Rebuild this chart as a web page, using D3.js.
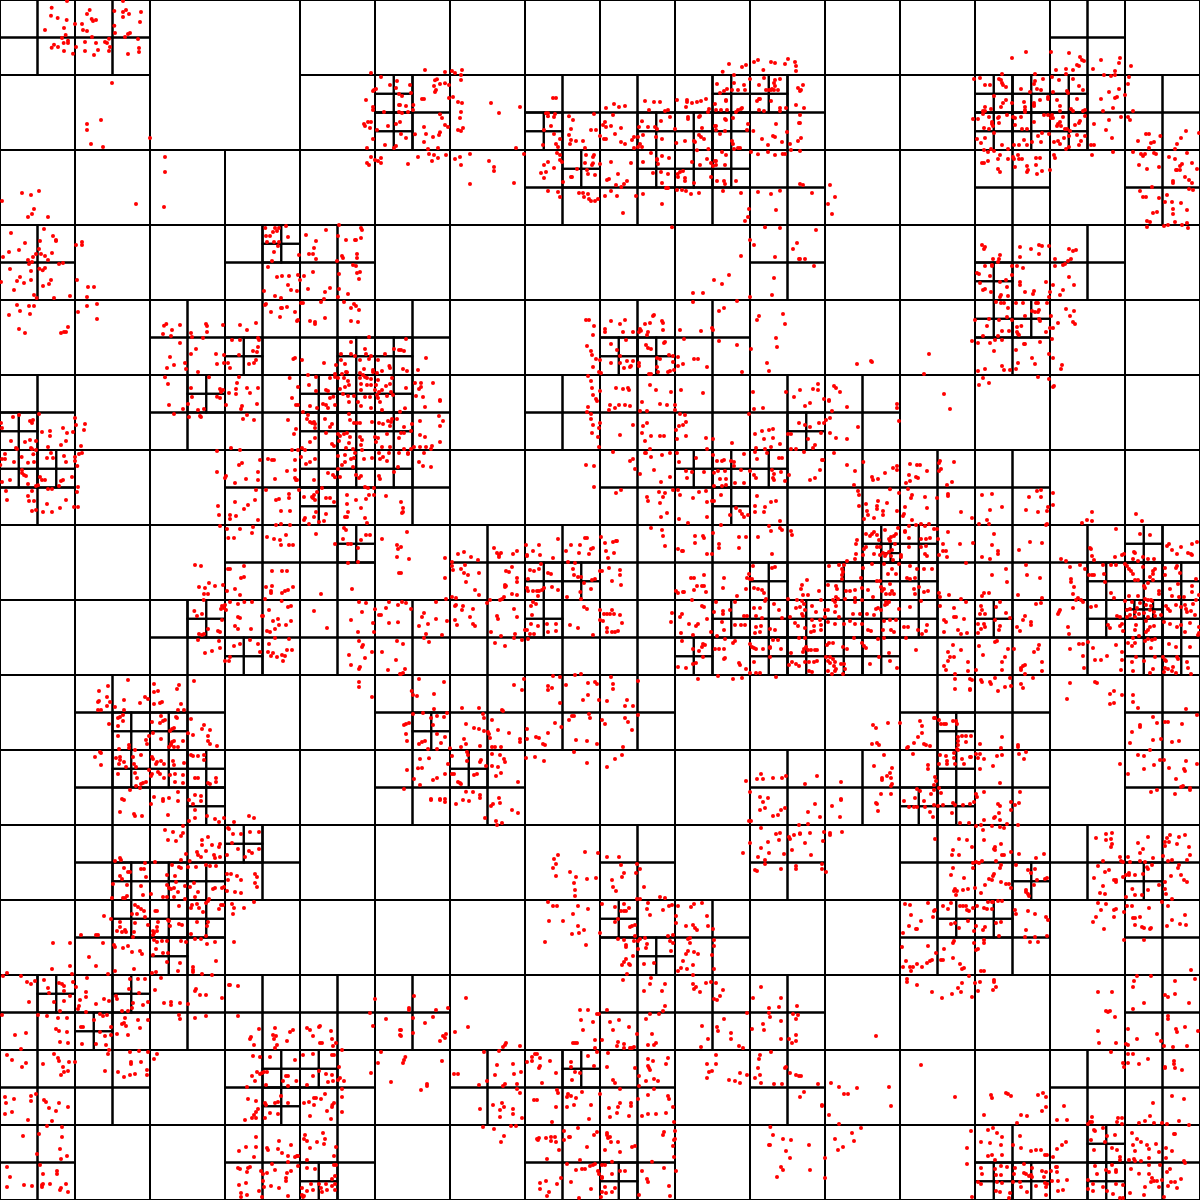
<!DOCTYPE html>
<html>
<head>
<meta charset="utf-8">
<title>Quadtree</title>
<script src="https://cdn.jsdelivr.net/npm/d3@7"></script>
<style>
  body { margin: 0; background: #fff; }
  svg { display: block; }
</style>
</head>
<body>
<div id="chart"></div>
<script>
// the only 150 wide cell which stays a leaf, in columns and rows of that size
var leaf150 = [[1, 0]];

// 75 wide cells that are split, listed by row
var split75 = [
  [0, 1, 14],
  [5, 7, 8, 9, 10, 13, 14, 15],
  [7, 8, 9, 10, 13, 15],
  [0, 3, 4, 10, 13, 14],
  [2, 3, 4, 5, 8, 9, 13],
  [0, 2, 3, 4, 5, 7, 8, 9, 10, 11],
  [0, 3, 4, 5, 8, 9, 10, 11, 12, 13],
  [3, 4, 6, 7, 8, 9, 10, 11, 12, 13, 14, 15],
  [2, 3, 4, 5, 6, 7, 8, 9, 10, 11, 12, 13, 14, 15],
  [1, 2, 5, 6, 7, 8, 12, 13, 15],
  [1, 2, 5, 6, 10, 11, 12, 13, 15],
  [1, 2, 3, 8, 10, 12, 13, 14, 15],
  [1, 2, 8, 9, 12, 13, 15],
  [0, 1, 2, 3, 4, 5, 8, 9, 10, 15],
  [0, 1, 3, 4, 6, 7, 8, 10, 14, 15],
  [0, 3, 4, 7, 8, 13, 14, 15]
];

// 37.5 wide cells that are split, as column,row
var split37 = [
  [10,2],[10,3],[14,3],[17,3],[19,2],[18,3],[19,3],[20,2],[26,2],[27,2],[26,3],[27,3],[28,2],[28,3],
  [15,4],[17,4],[18,4],[19,4],
  [7,6],[26,7],
  [6,9],[9,9],[10,9],[16,9],[17,9],[26,8],[27,8],
  [0,11],[5,10],[8,10],[9,10],[8,11],[9,11],[10,10],[10,11],[21,11],
  [0,12],[1,12],[8,12],[9,12],[8,13],[10,12],[18,12],[19,12],[19,13],[20,12],
  [9,14],[14,15],[15,15],[20,15],[23,14],[22,15],[23,15],[24,14],[24,15],[29,15],[30,14],[30,15],[31,15],
  [5,16],[6,17],[14,16],[19,16],[18,17],[20,16],[21,16],[20,17],[21,17],[22,16],[23,16],[22,17],[23,17],[24,16],[26,16],[29,16],[30,16],[31,16],[30,17],[31,17],
  [3,19],[4,19],[11,19],[25,19],
  [3,20],[4,20],[5,20],[5,21],[12,20],[25,20],[24,21],[25,21],
  [3,23],[4,23],[5,23],[6,22],[27,23],[30,23],
  [3,24],[4,24],[5,24],[4,25],[16,24],[17,25],[25,24],[26,24],
  [1,26],[3,26],[2,27],
  [7,28],[7,29],[8,28],[15,28],
  [8,31],[16,31],[26,31],[27,31],[29,30],[29,31]
];

// 18.75 wide cells that are split, as column,row
var split18 = [[47,29],[60,32],[61,32]];

var pointsA = [201,3,155,23,153,47,173,54,200,60,135,90,192,84,225,72,197,105,186,114,204,122,191,129,204,129,162,134,155,143,174,141,192,153,219,161,228,141,
269,30,261,42,275,57,279,63,288,60,246,72,249,90,261,93,276,111,255,126,288,129,315,126,321,129,327,116,330,141,327,153,294,150,255,153,282,165,
369,3,343,33,369,36,378,30,387,42,423,36,369,51,420,66,343,77,345,99,390,99,384,102,375,111,414,117,417,144,417,156,384,162,
336,249,303,360,261,372,261,390,273,432,309,441,450,414,495,471,495,516,492,621,66,579,93,585,117,573,6,603,102,627,96,642,84,651,144,651,408,612,
33,699,132,687,159,708,168,720,168,723,120,723,75,729,228,735,246,726,246,735,57,750,27,756,117,747,156,759,108,762,9,771,99,771,123,762,135,768,144,780,84,780,96,786,87,792,177,792,189,789,30,807,118,806,135,804,128,811,93,813,60,831,51,843,72,849,93,840,3,846,231,840,153,840,147,852,129,858,42,870,264,861,282,861,102,885,110,894,162,894,210,888,261,891,
51,915,87,918,102,918,27,945,60,933,90,942,261,918,291,912,234,936,291,957,57,987,75,999,204,981,183,999,192,996,198,996,
499,972,492,977,489,1002,516,990,540,975,513,1008,573,999,576,1011,618,972,621,978,621,996,609,1014,669,975,720,975,768,969,741,990,540,1029,720,1020,696,1020,777,1020,774,1014,
588,1047,573,1062,510,1071,648,1062,672,1065,672,1089,651,1092,555,1089,522,1095,501,1104,558,1107,594,1116,684,1089,690,1104,717,1065,759,1053,774,1041,771,1056,768,1080,762,1089,747,1092,
495,1132,504,1152,627,1132,573,1164,576,1191,717,1131,711,1149,708,1167,741,1164,774,1164,687,1179,708,1182,750,1179,660,1167,669,1170,663,1176,651,1190,660,1194,869,1134,894,1161,876,1194,
858,678,825,684,837,684,796,684,819,696,831,693,798,708,810,708,864,711,801,726,822,726,837,726,834,738,822,756,816,783,897,765,
1017,675,978,690,918,705,948,723,942,744,927,762,939,762,948,777,1014,708,1038,720,1065,720,1068,720,1083,684,1086,690,1083,714,1071,762,1071,774,1026,768,1029,774,1011,783,1059,795,1068,798,
804,801,912,828,939,816,831,831,846,828,867,828,894,825,900,840,864,855,873,870,891,873,792,873,825,888,843,894,990,864,975,876,924,867,1017,822,1080,816,1071,819,1077,837,1017,867,1044,882,1014,891,972,897,
1032,906,798,912,795,915,909,909,903,909,963,906,1062,912,1053,924,1068,918,1077,930,813,936,843,924,846,924,861,921,885,936,840,951,894,960,891,963,930,963,945,966,945,972,975,954,1053,963,1074,966,
1107,1011,1053,1026,1095,1047,1182,1047,1023,1062,1053,1062,1098,1062,1155,1062,1197,1050,1065,1068,1113,1068,1107,1077,1134,1080,1080,1080,1023,1080,1035,1092,880,1077,885,1074,906,1080,972,1089,1092,1107,1038,1116,1008,1095,1168,1098,1170,1104,1026,1122,1119,1110,1146,1113,1005,1122,1041,1117,1119,1116,1080,1119,1089,1125,1095,1131,1131,1119,
924,1125,948,1131,990,1134,1005,1131,1014,1134,1032,1134,1080,1134,1101,1134,1113,1137,1134,1140,1176,1134,1044,1143,
927,1155,978,1170,1047,1155,1035,1161,1083,1152,1101,1155,1113,1155,1128,1155,1170,1152,1158,1158,1020,1167,1083,1170,1125,1170,1146,1170,1173,1176,1131,1185,948,1173,984,1173,1029,1182,1044,1188,1062,1188,990,1194,1000,1190,1095,1191,1110,1191,1134,1194,1161,1188,1179,1185,1137,1176,
1113,219,1143,231,1191,243,1170,255,1128,267,1122,270,1119,273,1188,264,1197,282,1098,300,1119,321,1119,330,1152,336,1197,315,1197,336,1104,366,1092,372,1113,366,1095,378,1110,384,1164,378,1188,372,1131,390,1119,417,1155,435,1101,444,1182,444,1188,438,1113,471,1143,474,1125,480,1134,483,1143,489,1101,489,1107,495];

var pointsB = [75,210,135,216,156,213,165,219,186,210,183,225,183,240,105,241,111,238,102,258,120,252,135,250,147,255,30,255,108,270,105,276,33,279,6,288,66,297,72,297,147,294,159,291,174,306,186,309,273,309,360,321,183,336,297,339,40,315,18,318,0,315,39,330,24,336,6,339,120,343,180,354,126,354,72,381,135,375,144,381,174,390,183,393,189,384,0,366,3,402,18,414,45,403,78,402,99,411,120,397,117,405,72,426,84,447,114,444,348,444,372,462,87,462,102,465,54,471,114,474,138,465,96,483,165,477,180,471,210,462,183,495,24,492,267,483,282,501,282,513,210,552,342,549,
968,215,987,192,1002,225,1026,201,1038,195,1062,186,1074,180,1090,210,1113,186,1125,189,1155,192,1164,177,1185,186,1188,198,1188,213,
951,252,960,279,972,273,981,267,996,270,1002,249,1014,270,1032,255,1035,270,1050,237,1077,255,1092,234,1098,270,1107,270,1116,267,1125,240,1122,249,1125,258,1140,237,1134,270,1122,270,1113,270,1194,264,1077,297,1071,303,1080,297,1023,327,1014,330,1026,324,1008,336,1092,333,1077,330,1113,303,1140,324,1158,324,1140,333,1188,315,978,300,945,312,948,330,963,330,981,330,978,303,
459,294,468,294,618,324,642,312,657,321,675,318,735,303,762,306,780,306,831,300,861,300,861,306,876,309,891,306,903,303,918,297,858,321,747,330,795,333,804,330,927,327,924,336,
444,340,465,342,444,349,462,351,453,378,507,349,582,342,639,345,519,360,438,340,615,366,609,375,633,378,618,381,513,387,573,390,588,390,663,384,618,417,600,408,645,402,663,426,432,390,462,402,507,405,513,420,528,423,549,423,510,432,480,417,468,432,429,435,474,441,555,444,612,417,702,411,696,420,675,432,717,381,726,364,744,381,765,381,783,363,729,405,714,411,
720,432,726,441,702,444,714,441,771,387,768,411,786,417,810,351,825,387,864,351,864,357,897,351,900,348,906,384,948,378,975,357,978,360,999,354,1044,372,1041,390,829,429,855,423,882,423,897,405,903,411,912,417,885,426,925,447,945,378,948,390,960,402,975,393,996,423,999,432,1002,447,1014,444,1020,444,1060,393,1128,372,1119,408,1125,411,1086,417,1104,435,1146,426,1170,432,1161,396,1197,369,1194,423,
1053,456,1074,463,1125,465,1104,456,1148,462,1173,450,1155,462,
753,459,771,480,786,468,807,474,774,492,771,477,729,486,759,519,783,516,804,522,786,549,804,564,798,564,840,516,849,513,833,522,834,531,855,534,855,543,882,549,876,486,891,451,900,495,921,477,948,483,948,495,933,489,939,498,966,456,978,465,975,495,933,531,951,543,972,543,975,552,1008,543,945,483,
480,465,432,495,444,486,462,504,423,519,438,516,432,534,471,459,480,480,486,486,558,465,582,465,579,471,600,492,633,486,693,489,555,489,576,495,531,507,561,510,564,522,585,525,516,531,513,531,654,522,627,537,621,540,681,543,489,546,672,552,648,555,664,561,579,490,
444,573,474,576,480,591,537,579,549,579,552,591,564,582,567,597,573,603,585,603,594,597,615,588,633,573,651,588,708,588,729,582,786,612,669,639,801,564,831,570,846,570,858,573,873,582,897,579,969,573,1023,579,1074,576,1113,582,1140,572,1128,630,1047,627,1044,651,1035,663,
816,682,1095,682,1140,684,1050,720,1062,735,1191,729,1179,747,1197,777,1023,768,1125,771,987,825,942,840,966,852,1122,834,879,879,909,879,1116,885,1050,891,879,906,1011,903,972,924,957,933,
1077,948,1071,960,1149,942,1155,972,1128,1014,1131,1041,1101,1089,1107,1113,1026,1116,
558,960,567,960,633,963,675,960,660,972,582,978,615,987,615,996,579,1005,669,996,699,996,720,987,717,996,723,992,744,996,741,1005,735,972,750,969,759,948,762,945,786,963,789,969,789,990,840,990,903,993,936,984,939,990,
852,1017,957,1023,1011,1035,1053,1047,561,1038,573,1053,576,1065,588,1077,600,1080,579,1101,597,1116,603,1119,633,1032,678,1020,651,1050,738,1035,744,1044,753,1047,795,1026,792,1029,660,1068,633,1089,660,1089,681,1083,699,1083,690,1101,672,1104,693,1098,717,1089,717,1098,771,1074,780,1077,807,1065,819,1068,834,1071,819,1086,849,1092,834,1098,882,1077,894,1077,921,1101,771,1101,774,1116,804,1116,810,1113,822,1110,747,1122,753,1122,
78,1074,54,1110,12,1053,3,1050,9,1107,21,1113,18,1017,
564,1128,573,1143,576,1164,600,1173,579,1185,588,1197,648,1164,669,1167,684,1164,687,1170,750,1155,768,1170,843,1170,813,1176,909,1179,1059,1176,1158,1176,1182,1191,1200,1170,
63,1149,45,1149,63,1161,57,1167,99,1149,18,1164,48,1188,69,1191,120,1200];

var pointsC = [678,156,636,174,753,156,807,159,840,171,846,180,852,183,960,174,957,189,903,180,879,207,993,198,831,195,837,198,798,207,798,222,768,210,819,210,945,213,945,225,912,225,933,228,987,231,705,222,606,222,
9,255,3,270,0,273,12,324,0,345,0,369,3,414,0,453,
522,237,540,234,555,255,570,255,597,237,603,240,606,249,609,255,618,261,663,267,705,243,702,252,711,267,723,270,690,276,729,237,756,231,777,240,819,237,837,258,849,270,759,276,801,273,804,279,
582,288,618,300,603,321,609,309,636,309,672,306,702,309,702,318,720,300,744,297,744,291,771,300,780,318,831,297,813,327,819,333,855,330,849,333,675,321,675,330,675,336,702,315,
555,321,573,327,549,333,555,333,549,342,534,357,519,357,567,351,552,384,567,387,576,366,576,372,579,378,597,351,594,354,597,369,621,345,645,354,639,351,663,351,645,375,666,387,681,387,702,366,732,345,744,345,756,345,753,354,759,354,789,351,780,366,774,372,771,378,783,378,825,375,837,369,840,363,855,348,780,333,
582,399,555,414,531,417,543,429,606,435,624,447,642,435,657,435,672,420,681,435,714,408,726,399,747,402,696,426,723,426,762,426,774,423,780,432,792,414,795,387,801,387,810,393,807,408,831,405,855,408,843,423,837,435,798,447,807,441,573,447,552,450,564,456,582,453,
873,435,882,435,876,465,939,456,999,456,882,372,927,360,918,390,936,414,1014,423,1038,402,1047,402,1081,408,1062,426,1053,429,1047,444,1158,393,1143,414,1131,432,1197,399,1125,447,
927,276,903,297,957,267,945,294,951,291,975,285,984,252,909,333,939,324,999,333,963,351,984,351,990,360,
1023,462,1035,462,1029,468,1062,459,1068,462,1107,471,1125,477,1161,459,1146,492,1140,498,1131,510,1128,510,1140,510,1176,489,1191,507,1017,495,1041,507,1077,501,1155,531,1119,543,1119,549,1167,540,1176,549,1056,561,1020,573,1029,591,1038,591,1077,594,1101,585,1095,606,1116,606,1143,609,1179,570,1167,567,1059,639,1071,636,1119,627,1119,642,1161,630,1041,663,1050,666,1041,681,1092,678,1104,675,1125,666,1161,669,1146,675,1164,684,
600,465,639,471,654,465,657,477,642,477,666,477,708,474,720,474,762,465,765,474,546,489,552,489,564,483,594,477,624,477,708,495,681,498,645,501,594,507,600,516,684,510,681,516,750,510,726,513,711,522,
0,552,9,555,90,555,36,579,105,591,84,612,96,642,48,690,0,777,15,777,42,798,
546,735,555,741,552,747,660,741,693,747,717,735,726,738,747,738,717,762,660,771,807,747,819,753,828,750,600,765,597,777,579,777,594,786,765,777,813,777,804,783,795,792,789,795,
555,798,576,795,576,798,531,819,537,822,570,828,651,798,636,798,669,804,636,825,765,798,807,831,618,840,540,849,600,846,660,846,660,855,738,846,759,855,822,855,621,861,549,870,555,867,573,876,603,885,600,891,624,888,675,876,702,873,699,882,750,876,747,891,780,885,789,870,588,906,603,909,612,909,648,909,669,909,708,909,714,909,741,909,798,927,822,933,
624,924,621,951,675,948,696,933,705,936,714,936,717,930,753,948,810,948,525,960,567,957,597,960,636,960,717,957,720,963,819,966,825,972,774,969,561,978,651,981,664,978,606,993,627,993,651,996,654,1002,657,1005,549,1008,594,1008,738,996,759,984,750,984,516,1023,534,1029,570,1029,585,1020,606,1020,672,1032,675,1032,720,1026,756,1017,582,1053,648,1050,747,1062,759,1074,696,1074,654,1089,705,1092,786,1095,783,1107,606,1098,612,1110,630,1110,648,1107,534,1113,555,1107,
171,1092,213,1083,216,1086,387,1062,372,1122,714,1131,747,1137,549,1134,537,1155,567,1149,54,1152,39,1167,54,1170,102,1158,108,1164,120,1176,432,1182,762,1158,759,1161,72,1197,87,1200];

var pointsD = [3,69,6,84,39,51,57,45,117,42,90,63,99,60,96,69,126,96,150,93,150,108,189,84,201,99,219,96,228,75,255,72,252,90,225,54,33,123,75,126,90,120,108,123,48,144,51,147,93,144,96,147,144,141,183,135,198,123,243,138,108,150,153,159,246,159,237,162,15,162,65,171,100,163,6,177,15,177,141,174,159,174,192,168,225,171,225,183,42,186,84,188,102,186,198,186,1,195,66,210,66,219,72,225,232,198,216,231,30,240,6,246,78,228,84,252,120,231,126,240,135,240,183,243,189,240,177,258,144,267,156,267,108,258,114,256,234,261,96,273,231,276,18,273,84,288,87,303,102,303,21,300,198,300,141,312,180,324,222,321,234,321,108,330,96,333,129,336,156,336,
507,15,522,42,549,27,564,12,567,51,594,30,600,48,603,51,612,27,678,15,726,18,723,27,771,12,741,45,729,57,762,60,693,144,720,150,651,153,864,60,888,15,894,15,882,102,888,87,
909,36,924,45,930,66,936,69,942,66,945,72,921,57,945,84,978,15,1005,15,930,18,951,24,969,12,984,24,1047,6,1074,6,1083,18,1113,24,1140,6,1146,30,1050,60,1062,69,1071,69,1080,69,1116,66,1137,69,1164,63,1173,66,1176,57,1191,57,996,72,990,81,1047,42,1149,72,1170,78,975,57,
1014,102,1020,108,1041,99,1050,111,1032,102,1080,111,1086,120,1125,111,1134,114,1161,102,1197,114,978,99,930,126,945,114,996,132,1002,138,1017,123,1047,129,1083,135,1128,126,1146,141,1170,141,906,144,915,150,
894,150,876,150,1038,144,1059,147,1065,159,1086,150,1137,159,1167,159,1197,159,1014,168,1035,165,1053,177,1062,174,1092,177,1116,174,1140,177,1149,171,1161,183,903,171,885,180,930,186,945,177,1035,186,1059,201,1026,195,918,192,1014,207,1194,201,1182,216,1140,237,1083,228,1077,234,1068,225,1137,228,942,240,999,225,1005,232,984,219,1020,231,885,234,891,240,1095,261,1122,264,1104,264,966,264,1041,285,1068,300,1107,285,1158,288,1122,285,1098,297,942,285,939,294,951,276,945,300,936,291,912,291,978,294,990,294,1002,306,1041,312,1083,324,1044,336,1035,351,1041,351,1095,354,1101,369,978,342,915,354,912,360,948,336,942,351,927,372,972,363,957,366,
675,234,651,216,678,228,705,249,738,237,774,240,717,195,726,189,774,216,780,180,804,177,816,180,822,180,861,213,885,210,825,237,888,240,768,270,798,270,897,270,867,282,867,294,837,297,828,300,843,333,870,333,705,306,765,300,744,315,732,327,654,318,657,345,690,345,690,357,708,348,774,360,
660,378,681,387,720,387,759,381,756,399,685,414,702,414,801,411,822,417,840,420,858,405,843,435,867,435,879,435,828,375,843,372,870,375,948,402,1005,432,1032,384,1038,390,1029,417,1044,432,1053,432,1074,444,1098,405,1110,405,1083,420,1146,417,1191,435,1194,447,1191,471,1074,486,1044,489,1197,519,
585,495,603,498,684,507,690,507,732,498,816,513,846,513,861,513,723,534,732,531,597,561,615,564,627,549,645,558,669,555,612,582,624,582,681,573,705,567,720,585,798,561,816,558,813,573,813,579,846,579,855,573,864,570,879,561,1056,567,963,582,
611,600,583,633,606,642,591,648,666,618,672,624,663,627,678,630,675,615,690,606,714,612,733,606,756,606,795,597,845,603,864,621,873,618,807,630,789,648,786,648,834,657,819,663,873,663,858,675,837,675,825,687,810,696,801,693,942,633,1077,606,1098,609,1086,636,1053,660,981,684,1119,669,1074,696,1125,628,1158,624,1167,606,1194,615,1143,645,1137,645,1167,669,1194,667,1122,696,714,651,720,654,705,678,714,687,753,687,666,660,654,693,660,696,624,687,612,702,597,702,606,705,594,720,
657,723,660,744,702,738,720,732,750,720,774,732,780,756,807,732,825,714,867,717,861,750,876,750,804,756,819,759,813,768,831,771,846,765,855,768,849,783,636,753,615,759,690,771,675,783,687,783,1077,723,1089,735,1086,741,1116,756,1047,765,1095,774,1053,795,1080,801,1077,807,1188,780,1146,756,1164,810,1200,822,1191,723,1077,846,1077,861,1116,891,
384,840,582,843,324,858,297,873,462,852,537,855,531,867,462,876,474,873,321,891,297,903,294,906,435,891,444,897,420,909,372,900,462,912,480,909,486,906,543,912,321,918,345,921,330,906,294,930,303,930,372,930,
534,930,552,930,369,945,354,954,360,951,369,963,483,948,495,960,489,963,528,951,531,954,573,957,327,972,354,978,456,966,480,969,612,975,606,987,630,990,624,1008,516,987,522,984,510,993,459,999,564,1000,579,1005,
387,1035,354,1008,447,1008,438,1020,441,1032,483,1017,522,1023,549,1023,624,1023,630,1032,651,1038,516,1026,513,1035,507,1041,522,1041,534,1041,513,1032,
300,1056,303,1059,285,1071,303,1095,357,1047,348,1074,360,1071,360,1080,372,1086,357,1092,378,1101,387,1044,405,1050,399,1071,402,1092,408,1101,423,1065,456,1071,459,1077,483,1083,471,1086,468,1092,492,1092,519,1083,522,1095,552,1089,573,1065,579,1068,594,1068,612,1065,612,1080,
354,1122,411,1134,405,1119,423,1152,429,1149,438,1146,453,1128,456,1122,480,1122,492,1134,474,1116,447,1110,510,1125,525,1122,549,1125,525,1146,549,1149,585,1134,594,1134,648,1134,648,1146,630,1152,624,1149,366,1197,390,1170,420,1164,408,1158,462,1191,489,1197,507,1194,534,1176,567,1200,585,1185,603,1188];

var pointsE = [75,21,120,3,0,35,15,25,60,63,117,48,129,63,120,78,12,81,36,72,3,99,12,99,33,93,60,105,75,111,120,126,60,141,78,141,96,138,93,147,12,147,24,159,72,159,42,141,33,147,57,186,69,198,93,201,24,162,
3,306,9,324,9,336,6,339,21,396,27,477,3,441,3,519,135,474,135,534,
564,21,561,36,573,42,573,57,591,3,600,69,579,75,597,84,576,99,594,111,597,141,630,15,627,30,645,24,657,15,675,15,690,18,726,6,720,33,741,33,780,12,801,15,825,15,825,30,840,42,855,45,1047,42,1062,27,1089,24,
699,75,726,99,741,69,729,78,660,105,753,108,735,123,780,108,792,108,858,66,849,75,837,78,828,90,858,108,831,117,918,114,939,117,996,129,1065,102,1086,93,1107,90,1119,87,1119,114,1092,117,1068,144,1095,147,1113,141,1140,132,1164,102,1173,102,1197,69,
639,156,690,183,699,177,735,159,738,159,750,147,753,171,705,207,720,222,762,210,810,159,786,165,558,195,582,198,582,261,783,246,810,231,648,279,663,270,
831,159,837,186,888,174,921,147,939,165,951,183,966,183,972,180,993,183,1002,186,1032,162,1071,177,1065,156,1101,159,1137,174,1146,174,1173,147,1188,147,
858,213,876,216,861,234,912,216,942,218,954,213,975,213,1002,198,1023,210,1050,213,1062,225,1068,234,1116,210,1122,222,1143,216,1167,225,1122,240,1155,243,960,237,978,237,978,255,1005,249,1032,249,1119,234,
741,291,744,303,777,276,795,279,789,291,780,309,819,270,834,270,840,285,879,294,897,276,918,273,942,303,963,285,942,258,966,258,801,339,783,351,837,357,864,369,921,351,921,306,936,303,990,345,1008,324,1020,333,1026,342,1032,351,1044,345,1071,288,1065,318,1095,321,1113,306,1128,303,1065,336,1092,336,1140,363,
963,375,939,399,753,384,786,390,789,408,795,438,834,447,846,453,849,453,885,408,909,408,912,414,885,429,921,462,936,462,957,432,957,444,1017,411,1038,411,1017,444,1074,411,1107,378,1113,393,1116,462,1140,384,1146,390,1173,393,1176,405,
174,462,192,456,213,471,234,480,282,444,291,459,297,465,303,459,297,471,339,462,351,453,378,435,381,465,399,453,417,435,420,465,474,417,459,474,498,453,513,435,540,435,555,414,561,414,579,444,573,447,537,459,567,462,603,411,618,453,615,429,639,426,648,423,651,423,642,459,624,474,
156,486,156,498,159,510,183,507,195,495,192,519,204,525,237,519,198,546,225,570,237,585,318,513,327,516,336,501,351,534,351,546,315,555,318,558,315,561,336,582,351,585,312,591,306,597,300,600,270,600,261,609,
381,468,384,537,423,492,417,507,402,513,390,510,444,519,453,522,504,486,525,489,519,507,522,525,534,531,543,531,576,540,585,537,552,549,606,513,627,504,660,510,660,525,636,543,663,555,600,513,381,564,384,573,399,573,411,573,417,573,426,570,432,564,456,561,474,570,414,588,501,591,541,576,573,567,543,597,
156,591,168,594,138,597,108,606,168,615,189,618,165,618,186,630,6,606,18,609,33,627,72,639,66,651,57,678,108,657,141,663,165,660,84,672,171,675,219,627,210,651,219,672,225,678,291,648,294,657,342,627,351,651,273,696,
399,606,408,612,393,618,396,645,393,672,381,690,375,690,390,702,402,702,414,678,441,672,468,672,444,696,468,693,510,675,534,684,579,705,552,621,561,627,600,630,600,660,609,663,630,642,621,642,612,642,636,630,642,642,660,645,666,669,621,684,621,696,636,696,645,696,654,693,
78,702,126,705,72,714,87,726,9,732,285,729,315,738,303,708,345,702,342,714,366,720,384,717,
840,651,867,672,888,678,894,672,846,642,816,639,813,666,843,699,879,705,921,657,912,621,906,618,933,696,
942,636,969,633,969,642,990,630,948,606,1005,606,1032,648,1041,648,966,666,972,690,1005,675,1023,675,1035,675,1068,681,1083,678,1110,687,1125,690,1065,699,1080,696,1068,648,1086,654,1062,624,1080,624,1095,603,1122,612,1137,630,1146,654,1170,651,1164,597,1191,600,1188,624,1185,669,1194,678,951,708,975,717,1005,723,
1047,522,1059,498,1056,537,1041,534,1125,501,1116,504,1050,537,1062,564,1074,567,1086,570,1092,579,1098,597,1011,588,972,534,1038,567,969,564,
882,534,873,534,912,525,906,558,912,558,891,558,918,576,882,570,828,573,849,576,852,576,834,579,876,600,
1110,744,1062,744,1068,747,1089,747,1119,720,1134,720,1143,747,1110,741,1056,741,1050,732,1197,714,1173,759,1176,786,1167,795,1188,792,1197,798,
957,747,972,747,945,747,975,774,972,777,999,729,1017,789,1020,795,1038,807,915,735,906,741,909,732,897,753,879,747,909,771,888,789,879,792,846,723,834,801,858,804,
1062,786,1050,819,1068,819,1080,819,1128,831,1110,771,894,837,954,828,999,837,1026,834,
57,837,132,846,15,807,3,822,9,819,35,873,51,888,102,882,39,885,186,924,237,924,342,855,372,837,366,870,306,930,309,933,
444,858,456,864,444,870,459,828,480,831,498,855,525,825,543,822,564,849,585,846,591,852,633,831,639,852,639,867,549,900,564,885,480,909,597,900,621,903,681,900,675,918,699,918,714,843,
102,927,93,954,141,939,111,948,132,951,69,939,39,942,27,969,18,972,12,975,99,975,111,1002,135,1011,123,1029,75,1023,66,1026,57,1032,18,1002,21,1023,84,1047,111,1047,150,1045,
198,972,222,984,237,987,249,942,252,954,252,993,264,996,267,1002,270,1014,276,960,294,990,327,999,360,1017,360,1026,192,1017,198,1032,240,1038,183,1041,276,1041,303,1041,381,987,
465,969,444,999,408,1011,417,1014,429,1032,435,1035,381,1017,507,960,516,948,522,948,567,942,570,954,606,960,615,972,675,954,684,966,696,990,714,945,528,1020,561,1023,591,1032,484,981,
378,1074,405,1071,432,1083,522,1056,561,1089,621,1101,645,1077,666,1065,669,1041,
60,1077,87,1075,21,1110,54,1105,66,1104,42,1137,99,1140,111,1134,135,1122,60,1155,
156,1068,144,1092,156,1122,162,1122,174,1146,183,1152,201,1056,204,1065,201,1083,243,1080,240,1086,258,1098,231,1122,222,1125,198,1175,219,1176,240,1185,180,1149,
285,1041,276,1062,300,1065,312,1077,315,1086,276,1098,294,1101,288,1128,303,1119,354,1146,
1038,1143,1071,1137,1083,1122,1089,1137,1119,1134,1146,1134,1158,1128,1050,1176,1080,1191,1104,1194,12,1167,93,1197,120,1197,135,1197,240,1194,297,1194];

var pointsF = [87,3,30,9,15,18,141,21,96,33,291,12,291,24,450,27,297,63,90,54,78,60,72,69,57,69,30,81,174,81,15,75,63,99,90,99,108,114,141,117,24,117,45,135,39,144,12,156,102,159,
69,180,66,180,190,186,141,195,60,210,165,213,45,234,30,240,162,255,
291,198,279,204,255,219,216,231,219,240,234,237,330,192,351,195,360,195,381,213,291,210,327,225,348,231,354,234,318,249,330,243,420,183,417,189,462,186,423,207,417,213,441,255,456,246,
174,273,177,285,270,268,297,279,324,267,336,285,333,294,375,291,411,294,444,282,444,288,546,285,576,282,687,291,711,273,723,291,723,270,759,279,759,315,744,321,741,333,
198,312,234,303,261,309,177,318,231,318,231,327,201,333,204,345,249,333,291,333,315,321,381,324,312,342,309,348,222,354,249,345,192,357,336,360,348,375,363,372,387,372,483,336,516,354,570,330,606,321,678,330,714,336,561,360,537,372,567,372,741,372,738,375,876,336,876,363,861,360,846,369,1008,342,1026,363,948,387,
198,402,210,408,216,402,222,396,231,405,237,420,255,390,294,384,315,393,327,378,375,378,402,387,411,387,444,396,288,402,282,408,273,411,267,417,270,423,327,414,315,396,363,417,378,417,390,414,171,420,168,432,198,441,192,447,231,441,240,441,285,432,429,432,480,432,414,417,519,429,582,402,576,435,690,426,726,429,
168,462,165,477,189,465,222,462,240,465,249,459,258,462,267,456,276,450,273,468,279,480,255,468,303,465,303,471,327,441,363,441,378,438,375,462,381,468,429,453,438,453,441,471,417,465,657,450,594,453,594,462,546,471,570,477,
87,498,117,495,132,495,126,507,129,516,126,525,141,483,216,492,189,504,252,492,297,492,276,507,264,522,288,522,330,498,351,507,372,507,396,507,498,489,678,495,576,525,618,507,681,525,720,534,621,546,
330,537,183,534,231,543,240,543,6,555,21,540,3,567,9,585,24,585,57,573,84,555,108,558,126,537,111,567,138,573,150,573,165,570,186,564,204,570,243,561,246,573,252,567,270,552,258,582,270,582,276,573,282,582,321,534,345,534,357,561,342,567,345,582,372,576,384,573,
417,579,420,591,447,585,483,597,498,606,552,579,567,579,546,588,654,585,726,594,
6,603,12,612,0,621,15,630,36,618,63,600,84,630,75,630,99,600,108,591,114,597,105,606,108,618,135,597,165,594,165,606,186,600,219,591,234,624,228,627,243,630,258,606,267,606,261,612,255,615,297,627,330,621,363,603,
6,642,9,648,48,636,75,651,36,660,60,660,105,636,117,651,159,642,180,642,201,642,222,645,252,663,270,660,288,660,
15,684,42,678,42,693,33,696,63,675,63,690,105,672,84,666,132,672,150,663,165,672,186,672,204,690,213,693,249,690,282,696,273,690,312,681,324,681,354,690,381,675,378,693,366,702,
15,714,18,741,24,750,12,747,9,756,33,750,45,750,51,750,81,735,87,729,99,729,129,741,141,747,162,714,186,729,192,738,198,744,234,717,252,714,318,714,
15,786,27,786,42,786,51,783,78,771,90,771,99,777,105,786,90,789,84,783,102,798,123,792,132,792,135,807,108,807,27,813,36,816,84,813,96,822,129,822,105,813,210,792,237,771,267,759,270,783,291,804,
348,750,420,618,432,660,438,666,462,624,462,651,468,651,492,657,501,699,474,690,483,702,432,696,
543,618,546,630,540,642,555,642,588,621,600,606,618,639,630,654,534,672,552,672,555,681,543,687,534,699,597,690,600,678,585,660,675,648,669,660,693,666,693,675,651,681,660,693,708,612,723,609,
780,630,777,636,774,642,819,624,834,594,828,600,843,600,849,606,888,618,873,621,804,681,807,702,
459,735,483,750,444,756,450,771,462,771,444,783,432,798,438,810,465,822,504,786,504,813,537,738,549,765,528,810,591,723,585,726,624,747,642,747,615,771,606,786,606,810,663,804,669,798,675,795,663,810,717,735,714,747,702,756,726,786,726,813,
864,726,849,732,837,732,810,747,879,744,849,768,852,804,903,780,885,780,921,768,948,735,966,756,966,780,963,810,
1107,432,1101,438,1116,450,1131,462,1143,441,1164,459,1173,462,1176,465,1191,426,1176,432,
783,477,798,483,810,501,870,444,873,447,876,468,882,480,840,495,855,507,813,537,813,546,822,561,819,582,
972,462,966,465,945,471,975,492,981,498,987,507,993,513,999,522,933,495,948,495,909,495,882,525,876,525,867,525,912,522,915,546,933,579,942,594,1005,459,1020,402,1050,405,1029,471,1002,456,1014,483,999,477,1044,477,1062,477,1029,501,1065,507,1005,540,1014,540,1059,513,1059,522,1050,531,1059,540,1095,504,1095,525,1131,498,1128,504,1140,519,1188,537,1134,552,987,588,1014,588,1035,597,1053,600,1077,573,1077,582,1110,567,1116,588,1137,591,1152,591,1176,558,1176,576,1188,600,1197,585,1035,564,1044,549,1032,558,
975,603,996,606,1020,609,1044,600,1056,603,1053,618,1038,615,1011,624,981,630,990,627,1005,636,1017,642,1032,639,1050,630,1062,636,1005,651,990,645,981,651,960,651,951,648,1044,651,1065,648,1083,645,1098,618,1104,627,1128,615,1110,633,1155,615,1158,627,1179,612,1161,636,1173,633,1143,621,1185,645,
966,672,960,678,969,693,924,675,930,684,1008,675,1038,663,1050,681,1062,678,1044,690,1005,690,1038,696,1092,666,1110,672,1131,681,1143,675,1155,696,1197,681,1197,699,1170,669,1194,705,
999,714,1017,708,1035,723,1056,720,1065,717,1044,717,996,738,984,729,1005,729,1107,732,1128,741,1170,741,1053,744,
996,786,1008,771,1032,783,1065,771,1089,771,1095,780,1098,783,1131,771,1134,777,1095,804,1104,807,1119,801,1059,807,1050,819,1092,816,1116,813,1128,819,1161,786,1164,804,1173,822,999,813,
465,837,510,837,543,840,546,846,516,840,585,834,570,846,573,852,630,834,633,858,615,861,594,873,510,867,510,870,465,867,663,852,669,864,675,822,699,834,810,849,801,897,885,846,891,849,942,873,930,882,966,885,942,909,930,912,999,885,999,906,1014,924,1158,927,
405,954,417,960,423,972,438,972,459,963,468,963,471,972,432,972,360,963,366,978,300,969,264,969,219,975,228,984,366,999,354,1011,342,1029,321,1044,324,1041,372,1032,378,1035,390,1038,402,954,
996,996,1020,975,1020,981,1059,951,1071,969,1095,966,1104,966,1146,972,1191,945,1059,1020,990,1029,1116,1026,1137,1023,1083,1017,
474,1011,486,1008,498,1008,513,1008,474,1023,474,1035,498,1026,540,1032,606,1011,603,1044,654,1035,654,1041,216,1032,231,1029,237,1035,
471,1047,474,1050,420,1065,438,1068,441,1083,462,1059,462,1074,513,1071,510,1071,486,1077,492,1092,417,1092,441,1092,465,1092,528,1062,540,1062,534,1074,552,1077,591,1068,606,1065,579,1098,540,1107,657,1062,678,1056,672,1077,
339,1062,252,1065,384,1095,384,1107,222,1098,276,1104,270,1119,246,1134,246,1140,261,1128,273,1134,276,1152,273,1158,405,1131,408,1143,402,1155,51,1128,123,1146,15,1152,600,1149,
960,1092,984,1122,1014,1065,1032,1068,1050,1050,1080,1080,1092,1080,1032,1107,1062,1095,1158,1083,1152,1107,1155,1113,1191,1092,1128,1137,1143,1161,1149,1158,1170,1164,1107,1104,
243,1182,273,1182,123,1197,351,1167,360,1173,393,1182,402,1170,345,1194,423,1179,417,1164,552,1176,660,1176,528,1182,531,1191,1071,1170,1053,1176,1125,1182,1170,1170];

var pointsG = [372,0,453,12,489,3,534,3,360,36,402,42,405,48,426,48,504,45,567,63,585,30,585,54,621,48,603,3,579,12,645,57,657,66,672,54,702,66,747,48,762,54,
495,90,519,96,549,99,543,108,504,120,528,123,549,78,624,111,606,120,606,135,636,135,660,132,657,141,591,156,594,165,618,153,558,162,642,165,645,174,603,171,660,171,
684,84,687,87,699,102,723,102,750,96,777,96,696,129,714,147,681,165,747,153,756,159,777,147,735,171,
345,183,360,174,363,180,372,204,390,216,384,216,423,207,432,207,435,189,465,186,516,195,537,201,543,204,564,201,588,201,618,195,648,198,630,198,569,183,543,180,501,225,525,228,438,231,360,228,366,237,681,222,693,222,711,228,723,240,765,222,771,231,684,240,765,249,771,261,
501,255,507,264,513,267,522,264,528,246,555,258,534,276,582,249,570,261,594,276,639,267,645,264,666,264,672,261,339,252,381,255,423,258,585,291,522,291,489,291,501,291,381,288,375,294,429,285,453,282,681,273,705,276,723,279,555,297,336,294,369,294,
405,315,414,321,423,327,432,333,466,333,471,333,537,318,576,315,573,324,591,312,597,324,609,336,627,297,624,303,618,309,663,315,669,315,657,327,696,312,702,324,732,324,762,306,699,342,
435,351,396,342,411,342,507,363,504,360,312,348,333,357,360,366,405,369,360,381,375,390,351,393,366,396,444,375,474,366,471,381,510,378,537,372,546,375,591,366,624,366,621,378,459,393,462,399,471,393,459,405,402,396,378,396,243,405,288,405,294,405,399,411,
573,402,585,417,603,417,618,408,462,420,486,423,471,426,501,423,543,423,558,426,621,432,645,426,702,426,159,429,210,429,309,429,342,435,345,441,384,438,369,444,396,456,420,453,426,462,459,465,489,459,504,459,468,447,267,471,288,498,402,507,156,507,210,498,540,489,501,486,648,483,579,501,579,510,468,516,456,519,534,513,579,516,606,522,216,522,324,522,345,513,21,519,9,528,63,528,
132,540,81,546,105,543,93,552,177,549,186,552,192,558,219,546,261,534,228,561,144,564,147,579,192,573,210,588,258,576,87,606,162,606,192,603,240,600,288,612,258,591,312,597,327,603,237,618,234,627,
390,537,414,537,435,537,387,567,348,588,351,597,417,579,399,609,444,606,429,615,396,624,366,633,384,633,258,636,180,633,
483,534,465,570,492,609,513,606,513,615,540,609,588,567,585,573,600,585,618,585,666,594,690,555,687,555,714,558,636,525,564,612,
6,645,114,645,141,648,174,654,201,654,300,642,309,648,321,645,282,660,333,681,168,687,177,693,201,696,375,654,372,669,366,672,378,678,414,660,420,684,444,660,537,645,540,657,585,654,618,648,714,648,
243,681,249,681,300,696,315,708,333,705,351,702,384,705,246,732,288,732,318,735,180,726,204,729,45,705,78,699,
63,747,327,750,324,762,390,756,417,753,444,756,471,762,462,777,21,765,36,780,78,789,66,801,129,792,162,762,174,774,177,783,189,801,207,786,225,786,192,816,204,813,183,825,315,813,393,786,393,792,354,816,372,831,390,825,405,822,423,786,441,810,441,825,
15,891,93,888,108,882,42,897,93,903,18,909,132,900,138,906,177,909,147,924,204,921,168,933,36,936,15,942,84,960,156,963,
141,978,186,981,69,1008,186,1011,117,1002,180,1047,111,1062,183,1077,201,1068,21,1101,120,1095,171,1113,171,1122,129,1122,30,1131,198,1152,150,1152,126,1155,129,1152,21,1161,72,1155,96,1158,183,1164,180,1170,126,1161,204,1176,
777,687,753,711,750,717,762,735,825,684,819,705,828,708,822,717,831,735,825,744,861,723,870,696,879,690,921,684,930,690,957,681,960,678,939,708,960,729,966,729,993,693,996,717,1008,729,999,738,1026,750,
759,768,780,771,810,771,885,780,909,765,939,762,1002,765,996,765,858,828,864,828,849,843,889,843,864,858,921,855,939,828,984,846,999,843,1014,840,1020,834,1032,843,978,822,996,825,1017,801,957,813,
771,816,780,822,786,819,792,816,801,816,756,828,765,843,798,855,741,861,
744,897,768,903,795,909,798,915,825,909,834,906,843,888,864,909,912,909,927,906,942,894,948,894,963,897,975,882,942,915,997,915,1002,909,996,921,1026,867,1026,891,1026,936,981,933,810,939,834,942,774,927,768,936,762,945,756,954,768,954,735,960,795,954,930,948,993,957,
768,1011,717,1053,738,1041,768,1041,762,1071,801,1044,804,1050,837,1023,834,1047,846,1059,873,1035,864,1068,885,1071,891,1068,915,1005,912,1017,969,999,975,1017,951,1026,921,1023,930,1044,972,1032,1008,1041,1002,1068,894,1068,
921,1080,864,1086,816,1092,714,1104,720,1107,744,1104,750,1101,741,1116,789,1122,825,1110,801,1119,873,1113,861,1119,894,1098,921,1104,945,1107,1008,1095,1002,1095,783,1113,
717,1155,738,1149,789,1143,858,1134,858,1143,792,1161,813,1158,837,1164,777,1173,723,1179,723,1191,741,1185,786,1191,864,1188,906,1185,912,1188,909,1191,906,1164,921,1173,933,1152,957,1152,963,1164,939,1170,981,1170,996,1137,1005,1128,996,1158,978,1152,1005,1152,966,1176,1005,1170,
1125,597,1110,639,1158,657,1119,678,1200,690,1200,705,1143,756,1134,789,1113,819,1173,846];

var pointsH = [93,0,120,0,135,6,168,12,189,0,207,3,273,18,279,12,300,9,336,30,354,39,255,54,288,63,306,69,291,75,
1089,6,1095,24,1080,30,1155,24,1143,30,1134,45,1119,48,1047,63,1053,63,1083,84,1128,102,1140,99,1197,75,1104,126,1137,120,1170,117,1167,111,1182,105,1200,102,1083,144,1107,159,1176,150,1050,129,1152,162,1029,159,1074,171,1095,180,1095,192,1143,207,1065,210,1071,213,1188,198,1188,207,
555,156,594,159,621,171,657,171,474,165,462,177,468,192,459,204,468,228,510,216,528,231,522,249,561,237,588,234,525,270,525,288,663,195,672,219,666,231,636,240,639,261,648,273,711,192,720,207,708,219,732,261,
444,306,459,318,471,318,534,318,564,327,519,342,447,363,489,363,534,378,552,390,516,402,537,399,435,426,558,435,600,399,
780,291,795,294,711,297,720,297,606,312,645,321,672,312,687,324,663,333,672,333,678,333,741,327,744,309,750,345,789,330,807,318,816,315,834,318,873,321,882,312,906,309,921,348,828,348,858,378,828,369,879,375,885,384,891,390,924,378,939,387,645,366,690,381,696,378,705,375,654,357,
654,417,672,420,678,435,678,441,705,408,702,423,714,423,720,417,735,414,741,432,738,444,714,447,804,408,810,423,819,405,819,429,813,453,870,414,864,417,870,429,864,453,858,462,882,456,894,462,942,420,942,438,936,465,942,507,
699,468,678,477,672,486,666,495,687,492,690,495,732,492,762,489,849,483,843,504,879,495,861,507,834,513,681,522,669,540,
753,534,750,552,795,552,732,573,786,573,795,618,789,633,777,642,750,642,879,525,879,552,888,561,882,567,900,576,918,549,933,546,948,549,969,570,960,588,942,597,951,600,738,657,
1083,561,1059,594,1143,594,1191,618,1107,624,1137,621,1107,639,1041,639,1179,642,1194,645,1110,651,1188,657,1143,663,
198,594,204,681,42,588,27,624,27,630,108,630,144,624,39,654,99,651,75,669,3,690,3,708,165,696,138,702,129,708,135,714,120,723,39,699,
540,630,564,630,621,630,597,642,591,642,543,660,579,666,549,690,585,720,606,720,630,666,657,660,639,690,687,681,654,726,672,732,651,738,672,744,690,744,696,744,702,741,711,702,756,702,768,729,762,735,744,735,
906,678,924,717,903,741,951,681,954,693,972,657,993,699,993,717,1017,738,1029,744,1056,687,1092,690,1089,672,1143,717,1167,717,1188,705,1188,723,1176,729,
318,729,315,735,309,741,360,738,297,753,252,756,519,729,525,729,531,729,
405,762,411,762,396,771,420,774,450,783,381,786,396,783,420,798,417,804,
585,744,591,756,624,759,564,768,621,801,705,804,744,777,759,783,804,774,798,792,744,798,747,804,750,810,
16,771,12,780,9,789,126,783,291,795,339,792,363,816,342,822,285,825,162,822,174,822,468,819,426,849,513,786,513,801,516,840,525,816,540,819,582,798,
1113,756,1080,765,1077,777,1074,804,1080,825,1065,834,1122,852,1083,849,1146,852,1155,804,1158,801,1170,819,1188,825,1197,828,1041,825,1020,819,1005,843,987,840,1020,849,921,792,948,765,948,792,936,813,927,816,921,834,
81,852,81,858,63,870,237,855,261,843,315,852,309,858,351,852,360,879,351,867,
738,843,762,837,774,843,717,828,639,840,645,849,717,858,660,867,762,867,
471,870,474,879,402,900,411,900,504,882,513,888,546,876,501,891,528,894,522,915,501,921,573,915,468,921,600,882,
744,885,804,888,807,897,714,897,819,921,660,909,654,921,693,909,693,918,627,924,651,939,630,951,687,948,744,942,768,942,798,939,726,948,
240,927,279,915,306,909,312,921,300,930,339,927,339,942,300,951,366,954,567,957,456,966,
249,981,282,987,333,978,348,978,312,1008,303,1026,
822,966,825,993,792,996,789,1005,825,1017,822,1020,
411,1017,417,1014,414,1020,438,1014,453,1011,453,1023,465,1011,468,1026,477,1050,492,993,492,1020,510,1011,507,1011,534,984,582,1005,591,996,561,1041,621,999,621,1005,630,1011,624,1014,633,1026,654,1026,615,1050,660,1056,696,1041,705,1038,819,1038,
441,1077,540,1080,756,1085,822,1071,636,1085,579,1095,570,1098,585,1092,606,1095,615,1095,
501,1092,528,1110,546,1107,555,1107,594,1113,597,1122,792,1104,726,1113,828,1113,675,1113,636,1122,606,1131,660,1113,
483,1134,438,1143,420,1149,420,1167,471,1152,447,1176,441,1188,513,1146,573,1167,537,1194,606,1134,615,1161,603,1191,618,1179,636,1176,645,1164,606,1176,741,1137,744,1146,807,1158,717,1185,810,1188,
1111,981,1119,1005,1149,1017,1173,1020,1107,1035,1110,1035,1158,1053,1170,1074,1143,1101,1149,1110,1131,1131];

var pointsI = [45,12,24,36,60,51,96,18,123,0,120,51,24,72,228,9,231,12,234,33,
312,3,327,21,342,21,372,3,351,21,375,21,402,15,414,18,390,36,399,51,429,15,459,9,456,39,465,15,489,15,510,12,522,6,480,69,507,69,
600,18,594,12,597,39,585,51,582,54,633,6,645,15,657,9,633,30,552,60,600,60,621,72,654,75,528,78,543,75,549,90,576,78,600,81,612,84,
0,100,30,99,72,96,90,99,90,105,126,96,15,129,69,123,33,165,
405,117,477,117,501,120,459,150,456,165,477,165,516,141,519,189,552,120,
585,141,603,132,582,147,585,150,612,165,606,165,633,156,657,162,732,162,708,174,
888,114,918,102,936,99,918,120,933,117,936,132,933,141,1044,111,1014,129,1029,147,1020,159,1110,105,1101,114,1107,126,1137,111,1155,105,1095,126,1095,138,1131,132,1167,141,1170,165,
909,183,960,171,963,183,969,186,984,171,990,186,1059,174,1035,186,1020,183,1089,168,1104,183,1116,180,1161,180,894,198,915,216,927,210,882,234,969,231,909,258,915,282,900,279,942,240,948,240,948,246,978,225,987,219,987,225,1029,222,1005,225,1044,207,1041,202,1056,195,1095,246,1113,228,1137,195,1134,204,1143,225,1152,240,1161,246,1095,267,1098,282,997,267,1044,270,1077,255,978,291,1005,285,1026,285,1086,306,1116,297,
66,192,66,207,78,216,
459,204,519,204,546,183,528,186,588,183,537,189,600,204,603,195,453,225,492,234,582,222,567,237,576,240,603,246,555,255,579,228,
648,195,684,210,705,207,693,219,711,240,735,237,741,234,618,252,627,252,633,264,702,255,678,270,678,276,684,282,687,288,
465,267,462,273,471,273,489,270,504,267,525,264,543,279,468,285,
315,312,330,315,384,309,333,345,363,363,327,378,348,387,351,387,309,399,405,330,402,333,399,351,
429,318,444,327,453,309,480,318,489,318,498,318,519,324,531,318,552,324,561,327,576,327,576,306,564,306,579,306,594,303,606,303,501,330,507,333,453,372,465,369,477,384,504,363,528,378,555,381,549,390,522,393,588,369,603,366,597,408,
645,330,648,342,684,333,705,342,738,351,744,360,678,390,675,411,690,426,705,411,714,426,741,408,
888,351,903,330,879,366,942,330,948,327,942,351,912,387,894,309,918,312,972,336,981,318,996,318,999,354,1005,354,1020,351,1005,375,1026,381,1032,384,1050,387,1053,384,1047,324,1104,318,1116,360,1101,378,1140,372,1158,375,1155,345,972,420,1032,420,
306,441,384,438,408,459,318,483,351,492,339,501,330,501,333,513,309,501,366,501,381,489,390,483,396,480,432,447,423,480,429,480,459,474,480,492,492,504,486,507,462,423,459,429,522,429,528,450,534,447,552,420,552,429,543,513,552,513,
1173,510,1185,537,1125,543,1002,543,999,561,1011,528,1053,528,321,537,321,546,351,555,396,576,426,594,456,582,474,564,483,576,486,549,507,528,525,549,540,546,534,573,516,591,582,540,582,546,588,561,579,570,894,576,936,576,1095,585,1104,591,1125,582,1167,609,1032,609,999,627,918,633,924,636,930,633,945,651,894,693,897,729,948,729,933,756,1104,648,1104,657,984,687,1071,702,1011,717,1083,723,978,732,984,735,1092,738,1119,741,1161,738,1128,687,1131,696,1155,681,1194,693,
228,708,363,795,3,828,54,852,12,876,0,891,66,915,66,918,87,945,93,849,117,861,132,882,144,882,171,864,267,861,273,918,465,891,
984,762,999,762,1044,777,969,789,984,789,972,801,1017,792,1122,783,1122,792,1125,804,1146,810,1095,801,1095,804,
573,885,576,894,618,879,624,882,633,888,714,885,729,879,738,891,738,921,726,933,1116,888,1152,897,1059,909,792,918,771,960,801,960,552,945,663,945,681,948,651,969,
117,972,183,984,156,999,105,1017,162,1023,129,1041,114,1050,27,1035,75,1074,30,1110,75,1134,
876,951,864,972,870,966,876,966,954,954,966,954,951,966,966,972,1017,969,1035,963,1050,948,1062,969,1086,969,1101,972,1137,963,1167,975,
513,993,501,1044,501,1092,579,984,564,990,591,999,606,1011,543,1026,570,1029,603,1035,660,1008,639,1035,663,1044,693,1053,708,1050,723,1050,735,1065,741,1065,771,1047,786,1035,798,1026,564,1068,576,1065,606,1065,759,1071,585,1080,
882,990,885,993,909,984,921,1008,945,1005,873,1020,915,1026,936,1044,882,1050,951,1050,960,1080,960,1071,1122,1002,1125,1002,996,999,1011,1017,1023,1026,999,1035,1041,1035,1047,1047,1068,1032,1005,1053,1077,1056,1098,1044,1116,1053,987,1080,1002,1077,1005,1083,1047,1074,1023,1083,1098,1074,1152,1083,1155,1089,
543,1104,546,1122,603,1098,585,1107,588,1125,603,1125,621,1101,645,1104,642,1122,672,1092,672,1119,696,1104,726,1113,738,1116,732,1131,768,1101,771,1101,771,1116,753,1113,
534,1146,543,1152,591,1146,606,1149,639,1146,660,1146,678,1122,687,1128,693,1125,696,1131,663,1161,708,1158,735,1149,741,1152,738,1161,756,1143,774,1143,801,1140,774,1173,789,1170,738,1185,600,1176,588,1173,
627,1194,681,1176,630,1179,516,1191,
885,1098,936,1095,918,1110,948,1110,948,1116,927,1116,891,1122,864,1140,864,1167,879,1152,909,1161,948,1152,921,1173,879,1173,939,1182,960,1194,969,1194,993,1107,1047,1095,1080,1095,1056,1134,1071,1143,1086,1140,1110,1107,1101,1116,1125,1146,1143,1137,1113,1146,1104,1158,1131,1164,969,1155,990,1179,1035,1161,1032,1185,1077,1161,1092,1191,1053,1146,1062,1143,1017,1121,1047,1122];

// blocks in reading order, each block is 1200 of the point units wide
var blocks = [pointsA, pointsB, pointsC, pointsD, pointsE, pointsF, pointsG, pointsH, pointsI];

var size = 1200;
var svg = d3.select('#chart').append('svg')
  .attr('width', size)
  .attr('height', size);

var gridScale = d3.scaleLinear().domain([0, 64]).range([0, size]);
var pointScale = d3.scaleLinear().domain([0, 3600]).range([0, size]);

var leaf8 = new Set(leaf150.map(function (d) { return d[0] + ',' + d[1]; }));
var split4 = new Set();
split75.forEach(function (row, j) {
  row.forEach(function (i) { split4.add(i + ',' + j); });
});
var split2 = new Set(split37.map(function (d) { return d[0] + ',' + d[1]; }));
var split1 = new Set(split18.map(function (d) { return d[0] + ',' + d[1]; }));

function isSplit(x, y, w) {
  var key = (x / w) + ',' + (y / w);
  if (w > 8) return true;
  if (w == 8) return !leaf8.has(key);
  if (w == 4) return split4.has(key);
  if (w == 2) return split2.has(key);
  if (w == 1) return split1.has(key);
  return false;
}

// walk the tree from the root, every node gets its own square
var nodes = [];
function walk(x, y, w) {
  nodes.push({x: x, y: y, w: w});
  if (!isSplit(x, y, w)) return;
  var h = w / 2;
  walk(x, y, h);
  walk(x + h, y, h);
  walk(x, y + h, h);
  walk(x + h, y + h, h);
}
walk(0, 0, 64);

svg.append('g').selectAll('rect')
  .data(nodes)
  .join('rect')
  .attr('x', function (d) { return gridScale(d.x); })
  .attr('y', function (d) { return gridScale(d.y); })
  .attr('width', function (d) { return gridScale(d.w); })
  .attr('height', function (d) { return gridScale(d.w); })
  .attr('fill', 'none')
  .attr('stroke', '#000')
  .attr('stroke-width', 2);

var points = [];
blocks.forEach(function (list, b) {
  var ox = (b % 3) * 1200;
  var oy = Math.floor(b / 3) * 1200;
  for (var i = 0; i < list.length; i += 2) {
    points.push([ox + list[i], oy + list[i + 1]]);
  }
});

svg.append('g').selectAll('circle')
  .data(points)
  .join('circle')
  .attr('cx', function (d) { return pointScale(d[0]); })
  .attr('cy', function (d) { return pointScale(d[1]); })
  .attr('r', 2)
  .attr('fill', '#f00');
</script>
</body>
</html>
